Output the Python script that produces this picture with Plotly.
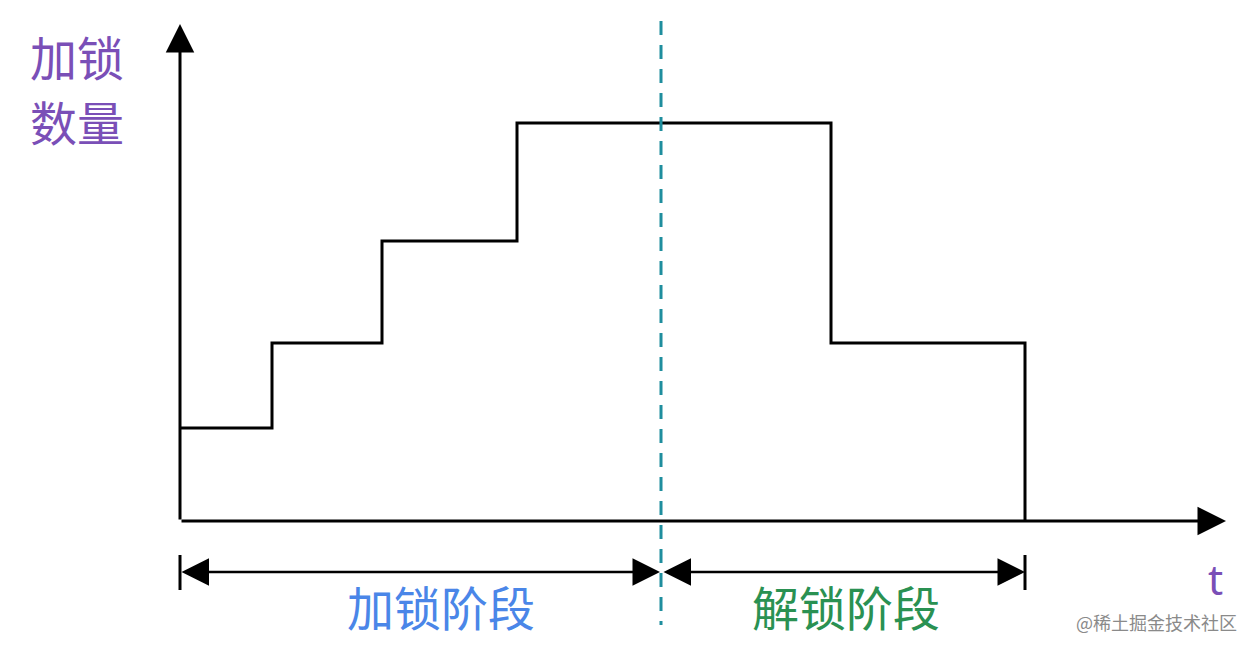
import plotly.graph_objects as go

# ---- data (time units: 1 = 100 px, count units: 1 = 100 px) ----
step_times = [0, 0.92, 2.02, 3.37, 6.51, 8.45]
lock_counts = [0.93, 1.78, 2.80, 3.98, 1.78, 0]
phase_bounds = [0, 4.81, 8.45]          # start, lock->unlock split, end
phase_labels = ["加锁阶段", "解锁阶段"]
phase_label_x = [2.61, 6.66]
phase_colors = ["#4a86e8", "#2a9152"]
axis_ends = {"t": 10.46, "y": 4.97}
y_title_lines = ["加锁", "数量"]
x_title = "t"
watermark = "@稀土掘金技术社区"

PURPLE = "#7a4fb7"
TEAL = "#1f8e9e"
FONT = "Noto Sans CJK SC"

# page has an 8px body margin -> compensate in ranges
X_RANGE = [-1.72, 10.86]
Y_RANGE = [-1.39, 5.13]
dim_y = -0.51
tick_y = [-0.34, -0.69]
dash_y = [5.00, -1.04]
label_y = -0.84

fig = go.Figure()

# step line
fig.add_trace(go.Scatter(x=step_times, y=lock_counts, mode="lines",
                         line=dict(color="black", width=3, shape="hv"),
                         hoverinfo="skip", showlegend=False))

# dashed split line
fig.add_trace(go.Scatter(x=[phase_bounds[1], phase_bounds[1]], y=dash_y, mode="lines",
                         line=dict(color=TEAL, width=3, dash="14px,10px"),
                         hoverinfo="skip", showlegend=False))

# dimension ticks at start and end
for xb in (phase_bounds[0], phase_bounds[2]):
    fig.add_trace(go.Scatter(x=[xb, xb], y=tick_y, mode="lines",
                             line=dict(color="black", width=3),
                             hoverinfo="skip", showlegend=False))

ann = []
# axes with arrowheads
ann.append(dict(x=0, y=axis_ends["y"], ax=0, ay=0, xref="x", yref="y", axref="x", ayref="y",
                showarrow=True, arrowhead=2, arrowsize=1.9, arrowwidth=3, arrowcolor="black",
                text="", standoff=0))
ann.append(dict(x=axis_ends["t"], y=0, ax=0, ay=0, xref="x", yref="y", axref="x", ayref="y",
                showarrow=True, arrowhead=2, arrowsize=1.9, arrowwidth=3, arrowcolor="black",
                text="", standoff=0))

# dimension arrows (double-headed)
segs = [(phase_bounds[0], phase_bounds[1] - 0.01), (phase_bounds[1] + 0.01, phase_bounds[2])]
for (a, b) in segs:
    ann.append(dict(x=b, y=dim_y, ax=a, ay=dim_y, xref="x", yref="y", axref="x", ayref="y",
                    showarrow=True, arrowhead=2, startarrowhead=2, arrowside="end+start",
                    arrowsize=2.2, startarrowsize=2.2, arrowwidth=2.5, arrowcolor="black",
                    text="", standoff=0, startstandoff=0))

# phase labels
for i, lab in enumerate(phase_labels):
    ann.append(dict(x=phase_label_x[i], y=label_y, xref="x", yref="y", text=lab, showarrow=False,
                    font=dict(family=FONT, size=47, color=phase_colors[i])))

# axis titles
for yy, line in zip([4.66, 4.01], y_title_lines):
    ann.append(dict(x=-1.03, y=yy, xref="x", yref="y", text=line, showarrow=False,
                    font=dict(family=FONT, size=47, color=PURPLE)))
ann.append(dict(x=10.35, y=-0.57, xref="x", yref="y", text=x_title, showarrow=False,
                font=dict(family="Noto Sans", size=42, color=PURPLE)))
# watermark
ann.append(dict(x=10.59, y=-1.01, xref="x", yref="y", text=watermark, showarrow=False,
                xanchor="right", font=dict(family=FONT, size=18, color="#8a8a8a")))

fig.update_layout(
    width=1258, height=652,
    margin=dict(l=0, r=0, t=0, b=0),
    paper_bgcolor="white", plot_bgcolor="white",
    xaxis=dict(range=X_RANGE, visible=False, fixedrange=True),
    yaxis=dict(range=Y_RANGE, visible=False, fixedrange=True),
    annotations=ann,
    showlegend=False,
)

fig.write_html("out.html")
